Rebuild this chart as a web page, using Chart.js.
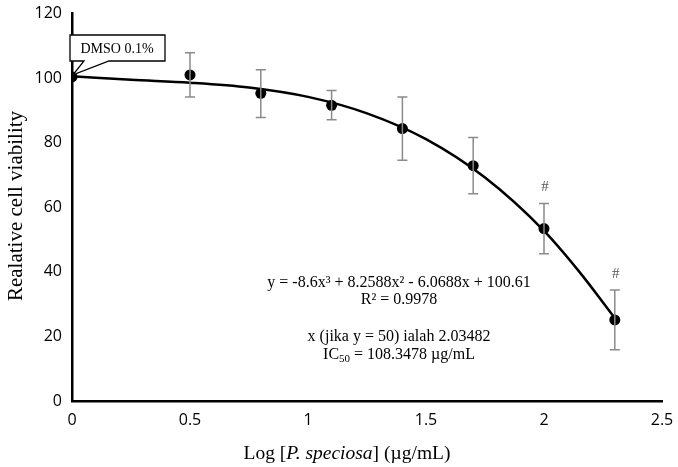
<!DOCTYPE html>
<html>
<head>
<meta charset="utf-8">
<script src="https://cdn.jsdelivr.net/npm/chart.js@4/dist/chart.umd.min.js"></script>
<style>
  html, body { margin: 0; padding: 0; background: #fff; }
  #wrap { width: 678px; height: 467px; }
</style>
</head>
<body>
<div id="wrap"><canvas id="viabilityChart" width="678" height="467"></canvas></div>
<script>
// Titik data
const logConc = [0, 0.5, 0.8, 1.1, 1.4, 1.7, 2.0, 2.3];
const viability = [100.4, 101, 95.3, 91.6, 84.4, 72.9, 53.4, 25.1];
const errLow = [null, 94.2, 87.8, 87.1, 74.6, 64.2, 45.6, 15.9];
const errHigh = [null, 107.9, 102.6, 96.2, 94.2, 81.6, 61.2, 34.4];
const hashMarks = [false, false, false, false, false, false, true, true];

// Kurva regresi
const curveX = [0, 0.25, 0.5, 0.75, 1.0, 1.25, 1.5, 1.75, 2.0, 2.15, 2.3];
const curveY = [100.6, 99.5, 98.6, 97.1, 94.2, 89.1, 81.1, 69.2, 52.7, 40.0, 25.7];

const xTicks = [0, 0.5, 1, 1.5, 2, 2.5];
const yTicks = [0, 20, 40, 60, 80, 100, 120];

const equationLines = [
  'y = -8.6x³ + 8.2588x² - 6.0688x + 100.61',
  'R² = 0.9978',
  '',
  'x (jika y = 50) ialah 2.03482',
  'IC50 = 108.3478 µg/mL'
];

const serif = '"Liberation Serif", "Times New Roman", serif';
const sans = '"Open Sans", "Liberation Sans", sans-serif';

// error bar + tanda # + teks
const extrasPlugin = {
  id: 'extras',
  afterDatasetsDraw(chart) {
    const ctx = chart.ctx;
    const xs = chart.scales.x, ys = chart.scales.y;
    ctx.save();
    ctx.strokeStyle = '#8a8a8a';
    ctx.lineWidth = 1.5;
    logConc.forEach((x, i) => {
      if (errLow[i] == null) return;
      const px = xs.getPixelForValue(x);
      const pl = ys.getPixelForValue(errLow[i]);
      const ph = ys.getPixelForValue(errHigh[i]);
      ctx.beginPath();
      ctx.moveTo(px, pl); ctx.lineTo(px, ph);
      ctx.moveTo(px - 5, pl); ctx.lineTo(px + 5, pl);
      ctx.moveTo(px - 5, ph); ctx.lineTo(px + 5, ph);
      ctx.stroke();
      if (hashMarks[i]) {
        ctx.fillStyle = '#555';
        ctx.font = '15px ' + serif;
        ctx.textAlign = 'center';
        ctx.textBaseline = 'alphabetic';
        ctx.fillText('#', px + 1, ph - 12);
      }
    });
    ctx.restore();
  },
  afterDraw(chart) {
    const ctx = chart.ctx;
    const xs = chart.scales.x, ys = chart.scales.y;
    ctx.save();
    // persamaan
    ctx.fillStyle = '#000';
    ctx.font = '16px ' + serif;
    ctx.textAlign = 'center';
    ctx.textBaseline = 'alphabetic';
    const cx = 399;
    ctx.fillText(equationLines[0], cx, 287);
    ctx.fillText(equationLines[1], cx, 304);
    ctx.fillText(equationLines[3], cx, 341);
    // IC50 dengan subskrip
    const a = 'IC', sub = '50', b = ' = 108.3478 µg/mL';
    ctx.font = '16px ' + serif;
    const wa = ctx.measureText(a).width, wb = ctx.measureText(b).width;
    ctx.font = '11px ' + serif;
    const ws = ctx.measureText(sub).width;
    let sx = cx - (wa + ws + wb) / 2;
    ctx.textAlign = 'left';
    ctx.font = '16px ' + serif;
    ctx.fillText(a, sx, 359);
    ctx.font = '11px ' + serif;
    ctx.fillText(sub, sx + wa, 362);
    ctx.font = '16px ' + serif;
    ctx.fillText(b, sx + wa + ws, 359);

    // kotak DMSO
    const p0x = xs.getPixelForValue(logConc[0]);
    const p0y = ys.getPixelForValue(viability[0]);
    ctx.fillStyle = '#fff';
    ctx.strokeStyle = '#000';
    ctx.lineWidth = 1.3;
    ctx.beginPath();
    ctx.moveTo(70, 35);
    ctx.lineTo(165, 35);
    ctx.lineTo(165, 61);
    ctx.lineTo(109, 61);
    ctx.lineTo(p0x + 1, p0y - 2);
    ctx.lineTo(84, 61);
    ctx.lineTo(70, 61);
    ctx.closePath();
    ctx.fill();
    ctx.stroke();
    ctx.fillStyle = '#000';
    ctx.font = '14px ' + serif;
    ctx.textAlign = 'center';
    ctx.textBaseline = 'middle';
    ctx.fillText('DMSO 0.1%', 117, 49);

    // judul sumbu x dengan miring
    ctx.textBaseline = 'alphabetic';
    ctx.textAlign = 'left';
    const parts = [['Log [', ''], ['P. speciosa', 'italic '], ['] (µg/mL)', '']];
    let total = 0;
    parts.forEach(p => { ctx.font = p[1] + '19.5px ' + serif; total += ctx.measureText(p[0]).width; });
    let tx = 347 - total / 2;
    parts.forEach(p => {
      ctx.font = p[1] + '19.5px ' + serif;
      ctx.fillText(p[0], tx, 459);
      tx += ctx.measureText(p[0]).width;
    });

    // judul sumbu y
    ctx.translate(16, 206);
    ctx.rotate(-Math.PI / 2);
    ctx.font = '21px ' + serif;
    ctx.textAlign = 'center';
    ctx.textBaseline = 'middle';
    ctx.fillText('Realative cell viability', 0, 0);
    ctx.restore();
  }
};

const ctxViab = document.getElementById('viabilityChart').getContext('2d');
const viabilityChart = new Chart(ctxViab, {
  type: 'scatter',
  data: {
    datasets: [
      {
        label: 'Kurva',
        data: curveX.map((x, i) => ({ x: x, y: curveY[i] })),
        showLine: true,
        borderColor: '#000',
        borderWidth: 2.5,
        pointRadius: 0,
        cubicInterpolationMode: 'monotone',
        order: 2
      },
      {
        label: 'Viabilitas',
        data: logConc.map((x, i) => ({ x: x, y: viability[i] })),
        backgroundColor: '#000',
        borderColor: '#000',
        borderWidth: 0,
        pointRadius: 5.5,
        order: 1
      }
    ]
  },
  options: {
    responsive: false,
    animation: false,
    devicePixelRatio: 1,
    layout: { padding: { top: 12, right: 16, left: 0, bottom: 0 } },
    plugins: {
      legend: { display: false },
      tooltip: { enabled: false }
    },
    scales: {
      x: {
        type: 'linear',
        min: 0, max: 2.5,
        afterBuildTicks(axis) { axis.ticks = xTicks.map(v => ({ value: v })); },
        afterFit(axis) { axis.height = 66; },
        grid: { display: false, drawTicks: true, tickLength: 6, tickColor: '#000', tickWidth: 2.5 },
        border: { color: '#000', width: 2.5 },
        ticks: { color: '#000', font: { family: sans, size: 16 }, padding: 4, maxRotation: 0,
                 callback: v => String(v) }
      },
      y: {
        min: 0, max: 120,
        afterBuildTicks(axis) { axis.ticks = yTicks.map(v => ({ value: v })); },
        afterFit(axis) { axis.width = 72; },
        grid: { display: false, drawTicks: true, tickLength: 6, tickColor: '#000', tickWidth: 2.5 },
        border: { color: '#000', width: 2.5 },
        ticks: { color: '#000', font: { family: sans, size: 16 }, padding: 4 }
      }
    }
  },
  plugins: [extrasPlugin]
});
</script>
</body>
</html>
